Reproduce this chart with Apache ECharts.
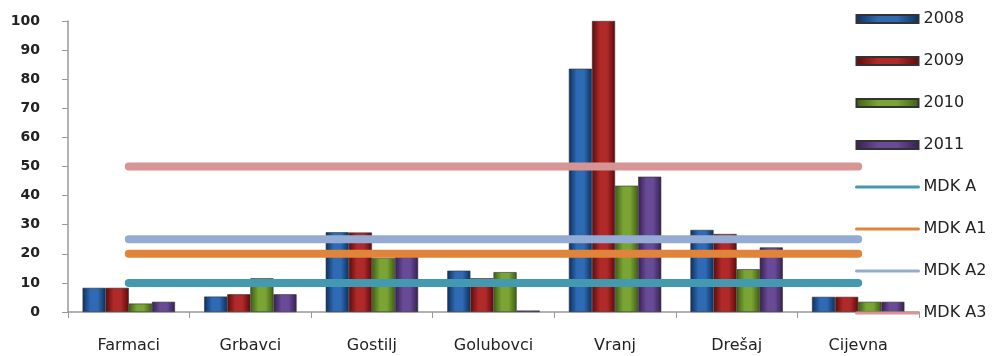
<!DOCTYPE html>
<html>
<head>
<meta charset="utf-8">
<script src="https://cdn.jsdelivr.net/npm/echarts@6/dist/echarts.min.js"></script>
<style>
html,body{margin:0;padding:0;background:#fff;}
#chart{width:998px;height:356px;}
</style>
</head>
<body>
<div id="chart"></div>
<script>
// Measurement sites
const categories = ['Farmaci', 'Grbavci', 'Gostilj', 'Golubovci', 'Vranj', 'Drešaj', 'Cijevna'];
// Yearly values per site
const years = ['2008', '2009', '2010', '2011'];
const v2008 = [8.3, 5.3, 27.4, 14.2, 83.6, 28.2, 5.2];
const v2009 = [8.3, 6.1, 27.3, 11.6, 100, 26.8, 5.2];
const v2010 = [2.9, 11.6, 18.6, 13.7, 43.4, 14.7, 3.5];
const v2011 = [3.5, 6.1, 19.0, 0.5, 46.5, 22.2, 3.5];
// Limit values (MDK)
const limitNames = ['MDK A', 'MDK A1', 'MDK A2', 'MDK A3'];
const limitValues = [10, 20, 25, 50];
// Y axis ticks
const yTicks = [0, 10, 20, 30, 40, 50, 60, 70, 80, 90, 100];

const barColors = [
  ['#0d2f5e', '#2f6bb5', '#0d2f5e'],
  ['#5e0a0a', '#b02a2a', '#5e0a0a'],
  ['#3f5e14', '#7aa434', '#3f5e14'],
  ['#35204f', '#684a97', '#35204f']
];
const lineColors = ['#4399b0', '#e0843b', '#94abd3', '#d69494'];

function grad(c) {
  return new echarts.graphic.LinearGradient(0, 0, 1, 0, [
    { offset: 0, color: c[0] },
    { offset: 0.35, color: c[1] },
    { offset: 0.65, color: c[1] },
    { offset: 1, color: c[0] }
  ]);
}

const barData = [v2008, v2009, v2010, v2011];
const series = [];
years.forEach((y, i) => {
  series.push({
    name: y,
    type: 'bar',
    data: barData[i],
    barGap: '0%',
    barCategoryGap: '24%',
    itemStyle: { color: grad(barColors[i]), borderColor: '#333', borderWidth: 0.6 },
    z: 2
  });
});
limitNames.forEach((n, i) => {
  series.push({
    name: n,
    type: 'line',
    data: categories.map(() => limitValues[i]),
    symbol: 'none',
    lineStyle: { color: lineColors[i], width: 8, cap: 'round' },
    itemStyle: { color: lineColors[i] },
    z: 3
  });
});

const chart = echarts.init(document.getElementById('chart'), null, { renderer: 'canvas' });
chart.setOption({
  animation: false,
  backgroundColor: '#fff',
  grid: { left: 68, right: 79, top: 21, bottom: 44 },
  legend: {
    orient: 'vertical',
    left: 850,
    top: 5,
    itemWidth: 62,
    itemHeight: 8,
    itemGap: 24,
    lineStyle: { width: 3 },
    textStyle: { fontFamily: 'DejaVu Sans', fontSize: 16, color: '#222', lineHeight: 18 },
    data: years.map(n => ({ name: n, icon: 'rect' }))
      .concat(limitNames.map(n => ({ name: n, itemStyle: { opacity: 0 } })))
  },
  xAxis: {
    type: 'category',
    data: categories,
    axisLine: { lineStyle: { color: '#999', width: 1.5 } },
    axisTick: { show: true, length: 6, lineStyle: { color: '#999' } },
    axisLabel: { color: '#222', fontFamily: 'DejaVu Sans', fontSize: 16, margin: 26 }
  },
  yAxis: {
    type: 'value',
    min: yTicks[0],
    max: yTicks[yTicks.length - 1],
    interval: 10,
    splitLine: { show: false },
    axisLine: { show: true, lineStyle: { color: '#999', width: 1.5 } },
    axisTick: { show: true, length: 6, lineStyle: { color: '#999' } },
    axisLabel: { color: '#222', fontFamily: 'DejaVu Sans', fontWeight: 'bold', fontSize: 14, margin: 28 }
  },
  series: series
});
</script>
</body>
</html>
